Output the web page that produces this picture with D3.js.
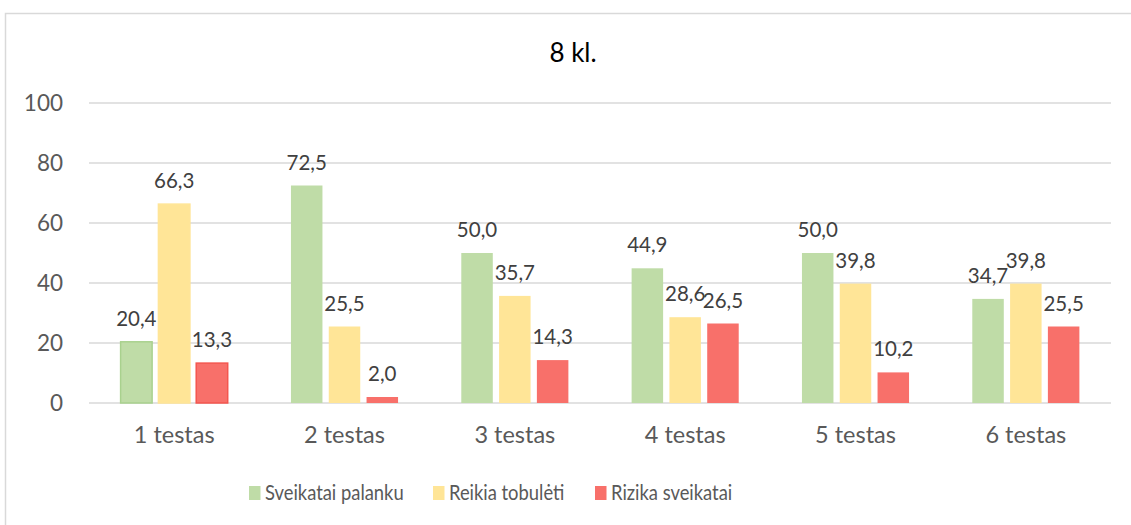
<!DOCTYPE html>
<html><head><meta charset="utf-8">
<script src="https://cdn.jsdelivr.net/npm/d3@7"></script>
<style>body{margin:0;background:#fff}svg{display:block}text{font-family:Lato,"Open Sans",sans-serif}</style>
</head><body><svg id="c" width="1131" height="525"></svg>
<script>
const title = "8 kl.";
const categories = ["1 testas","2 testas","3 testas","4 testas","5 testas","6 testas"];
const seriesNames = ["Sveikatai palanku","Reikia tobulėti","Rizika sveikatai"];
const palanku = [20.4, 72.5, 50.0, 44.9, 50.0, 34.7];
const tobuleti = [66.3, 25.5, 35.7, 28.6, 39.8, 39.8];
const rizika = [13.3, 2.0, 14.3, 26.5, 10.2, 25.5];
const yTicks = [0, 20, 40, 60, 80, 100];
const colors = ["#BFDCA7", "#FFE597", "#F8706A"];
const strokes = ["#A9D18E", "#FFE597", "#F4564F"];

const series = [palanku, tobuleti, rizika];
const svg = d3.select("#c");
const m = {l: 89, t: 103};
const pw = 1111 - m.l, ph = 403 - m.t;

// outer border
svg.append("rect").attr("x", 5.5).attr("y", 13.5).attr("width", 1200).attr("height", 600)
  .attr("fill", "none").attr("stroke", "#d9d9d9").attr("stroke-width", 1.5);

const x0 = d3.scaleBand().domain(categories).range([m.l, m.l + pw]).paddingInner(0).paddingOuter(0);
const y = d3.scaleLinear().domain([0, 100]).range([m.t + ph, m.t]);

// grid
svg.append("g").selectAll("line").data(yTicks).join("line")
  .attr("x1", m.l).attr("x2", m.l + pw)
  .attr("y1", d => y(d)).attr("y2", d => y(d))
  .attr("stroke", "#d9d9d9").attr("stroke-width", 1.3);

// y axis labels
const ya = d3.axisLeft(y).tickValues(yTicks).tickSize(0).tickPadding(26);
const yg = svg.append("g").attr("transform", `translate(${m.l},0)`).call(ya);
yg.select(".domain").remove();
yg.selectAll("text").attr("font-size", 22.5).attr("fill", "#595959").attr("font-family", "Lato, sans-serif");

// x axis labels
const xa = d3.axisBottom(x0).tickSize(0).tickPadding(23.5);
const xg = svg.append("g").attr("transform", `translate(0,${m.t + ph})`).call(xa);
xg.select(".domain").remove();
xg.selectAll("text").attr("font-size", 23.5).attr("fill", "#595959").attr("font-family", "Lato, sans-serif");

const bw = 31.5, gap = 6.3;
const x1 = d3.scaleBand().domain([0,1,2]).range([-(bw*1.5+gap), bw*1.5+gap]).paddingInner(gap/(bw+gap)).paddingOuter(0);

const fmt = v => v.toFixed(1).replace(".", ",");

series.forEach((vals, si) => {
  const g = svg.append("g");
  g.selectAll("rect").data(vals).join("rect")
    .attr("x", (d, i) => x0(categories[i]) + x0.bandwidth()/2 + x1(si))
    .attr("width", x1.bandwidth())
    .attr("y", d => y(d))
    .attr("height", d => y(0) - y(d))
    .attr("fill", colors[si])
    .attr("stroke", (d, i) => i === 0 ? strokes[si] : "none")
    .attr("stroke-width", 1.5);
  g.selectAll("text").data(vals).join("text")
    .attr("x", (d, i) => x0(categories[i]) + x0.bandwidth()/2 + x1(si) + x1.bandwidth()/2)
    .attr("y", d => y(d) - 16)
    .attr("text-anchor", "middle")
    .attr("font-size", 20.5)
    .attr("fill", "#404040")
    .text(d => fmt(d));
});

// title
svg.append("text").attr("x", 573).attr("y", 62).attr("text-anchor", "middle")
  .attr("font-size", 26).attr("fill", "#000").attr("font-family", "Lato, sans-serif").text(title);

// legend
const legX = [249, 433, 595];
const lg = svg.append("g");
seriesNames.forEach((n, i) => {
  lg.append("rect").attr("x", legX[i]).attr("y", 486).attr("width", 11.5).attr("height", 14).attr("fill", colors[i]);
  lg.append("text").attr("transform", `translate(${legX[i] + 16},500) scale(0.875,1)`)
    .attr("font-size", 21).attr("fill", "#595959").text(n);
});
</script></body></html>
